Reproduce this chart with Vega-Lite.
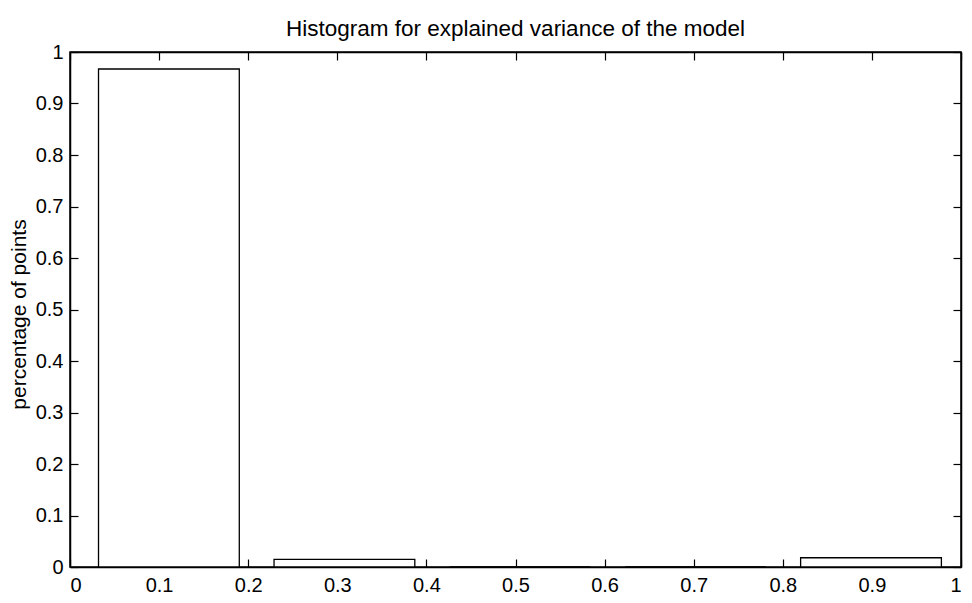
{
  "$schema": "https://vega.github.io/schema/vega-lite/v6.json",
  "width": 891,
  "height": 515,
  "autosize": "none",
  "padding": {"left": 70, "top": 52, "right": 11, "bottom": 36},
  "background": "white",
  "title": {
    "text": "Histogram for explained variance of the model",
    "font": "Liberation Sans",
    "fontSize": 22.5,
    "fontWeight": "normal",
    "color": "black",
    "offset": 2,
    "anchor": "middle"
  },
  "config": {
    "view": {"stroke": "black", "strokeWidth": 1.5},
    "axis": {
      "domainColor": "black",
      "domainWidth": 1.5,
      "tickColor": "black",
      "tickWidth": 1.2,
      "grid": false,
      "labelFont": "Liberation Sans",
      "labelFontSize": 20,
      "labelColor": "black",
      "titleFont": "Liberation Sans",
      "titleFontSize": 21,
      "titleFontWeight": "normal",
      "titleColor": "black"
    }
  },
  "data": {
    "values": [
      {"bin_start": 0.032, "bin_end": 0.190, "share": 0.967},
      {"bin_start": 0.229, "bin_end": 0.387, "share": 0.015},
      {"bin_start": 0.426, "bin_end": 0.584, "share": 0.0},
      {"bin_start": 0.623, "bin_end": 0.781, "share": 0.0},
      {"bin_start": 0.820, "bin_end": 0.978, "share": 0.018}
    ]
  },
  "layer": [
    {
      "mark": {"type": "bar", "fill": "white", "stroke": "black", "strokeWidth": 1.3},
      "encoding": {
        "x": {
          "field": "bin_start",
          "type": "quantitative",
          "scale": {"domain": [0, 1], "nice": false},
          "axis": {
            "title": null,
            "values": [0, 0.1, 0.2, 0.3, 0.4, 0.5, 0.6, 0.7, 0.8, 0.9, 1],
            "format": "~g",
            "tickSize": -8,
            "labelPadding": 16
          }
        },
        "x2": {"field": "bin_end"},
        "y": {
          "field": "share",
          "type": "quantitative",
          "scale": {"domain": [0, 1], "nice": false},
          "axis": {
            "title": "percentage  of points",
            "values": [0, 0.1, 0.2, 0.3, 0.4, 0.5, 0.6, 0.7, 0.8, 0.9, 1],
            "format": "~g",
            "tickSize": -8,
            "labelPadding": 15,
            "titlePadding": 6,
            "titleY": 262
          }
        },
        "y2": {"datum": 0}
      }
    },
    {
      "mark": {"type": "rule", "opacity": 0},
      "encoding": {
        "x": {
          "field": "bin_start",
          "type": "quantitative",
          "scale": {"domain": [0, 1], "nice": false},
          "axis": {
            "orient": "top",
            "title": null,
            "labels": false,
            "values": [0, 0.1, 0.2, 0.3, 0.4, 0.5, 0.6, 0.7, 0.8, 0.9, 1],
            "tickSize": -8
          }
        },
        "y": {
          "field": "share",
          "type": "quantitative",
          "scale": {"domain": [0, 1], "nice": false},
          "axis": {
            "orient": "right",
            "title": null,
            "labels": false,
            "values": [0, 0.1, 0.2, 0.3, 0.4, 0.5, 0.6, 0.7, 0.8, 0.9, 1],
            "tickSize": -8
          }
        }
      }
    }
  ],
  "resolve": {"axis": {"x": "independent", "y": "independent"}}
}
